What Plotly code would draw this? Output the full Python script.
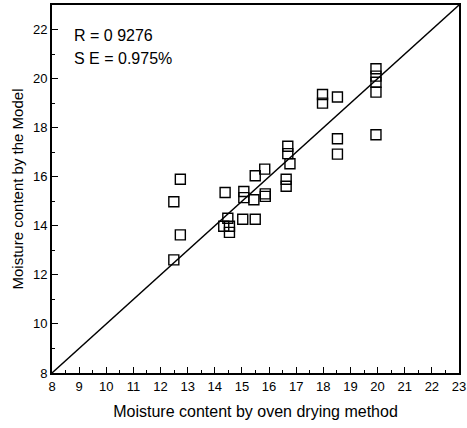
import plotly.graph_objects as go

# Data
oven = [12.73, 12.49, 12.73, 12.49, 14.38, 14.33, 14.54, 14.54, 14.48,
        15.07, 15.07, 15.03, 15.49, 15.44, 15.49, 15.86, 15.86, 15.84,
        16.69, 16.69, 16.77, 16.63, 16.63,
        17.97, 17.97, 18.52, 18.52, 18.52,
        19.94, 19.94, 19.94, 19.94, 19.94]
model = [15.9, 14.98, 13.63, 12.61, 15.36, 13.98, 13.98, 13.73, 14.31,
         15.4, 15.15, 14.27, 14.27, 15.06, 16.04, 15.3, 15.2, 16.31,
         17.24, 16.94, 16.53, 15.9, 15.61,
         19.35, 19.0, 19.25, 17.55, 16.92,
         20.4, 20.1, 19.85, 19.45, 17.71]
line_xy = [8, 23]
x_ticks = list(range(8, 24))
y_ticks = list(range(8, 23, 2))

fig = go.Figure()
fig.add_trace(go.Scatter(x=line_xy, y=line_xy, mode="lines",
                         line=dict(color="black", width=1.4),
                         hoverinfo="skip", showlegend=False))
fig.add_trace(go.Scatter(x=oven, y=model, mode="markers",
                         marker=dict(symbol="square-open", size=10,
                                     color="black", line=dict(width=1.4)),
                         showlegend=False))

font = "Liberation Sans, Arial, sans-serif"
axis_common = dict(range=[8, 23], ticks="inside", ticklen=6, tickwidth=1.2,
                   tickcolor="black", showgrid=False, zeroline=False,
                   showline=True, linecolor="black", linewidth=1.8,
                   mirror=True, automargin=False,
                   tickfont=dict(size=13))
fig.update_layout(
    width=467, height=428,
    margin=dict(l=52, r=8, t=5, b=55, autoexpand=False),
    paper_bgcolor="white", plot_bgcolor="white",
    font=dict(family=font, color="black", size=13),
    xaxis=dict(**axis_common, tickvals=x_ticks,
               minor=dict(dtick=0.5, ticks="inside", ticklen=3, tickcolor="black"),
               title=dict(text="Moisture content by oven drying method",
                          font=dict(size=16), standoff=13)),
    yaxis=dict(**axis_common, tickvals=y_ticks,
               minor=dict(dtick=1, ticks="inside", ticklen=3, tickcolor="black"),
               title=dict(text="Moisture content by the Model",
                          font=dict(size=15), standoff=6)),
    annotations=[
        dict(x=0.05, y=0.918, xref="paper", yref="paper", xanchor="left",
             yanchor="middle", text="R = 0 9276", showarrow=False,
             font=dict(size=16)),
        dict(x=0.05, y=0.855, xref="paper", yref="paper", xanchor="left",
             yanchor="middle", text="S E = 0.975%", showarrow=False,
             font=dict(size=16)),
    ],
)
fig.write_html("out.html", config={"displayModeBar": False},
               post_script="document.body.style.margin='0';")
